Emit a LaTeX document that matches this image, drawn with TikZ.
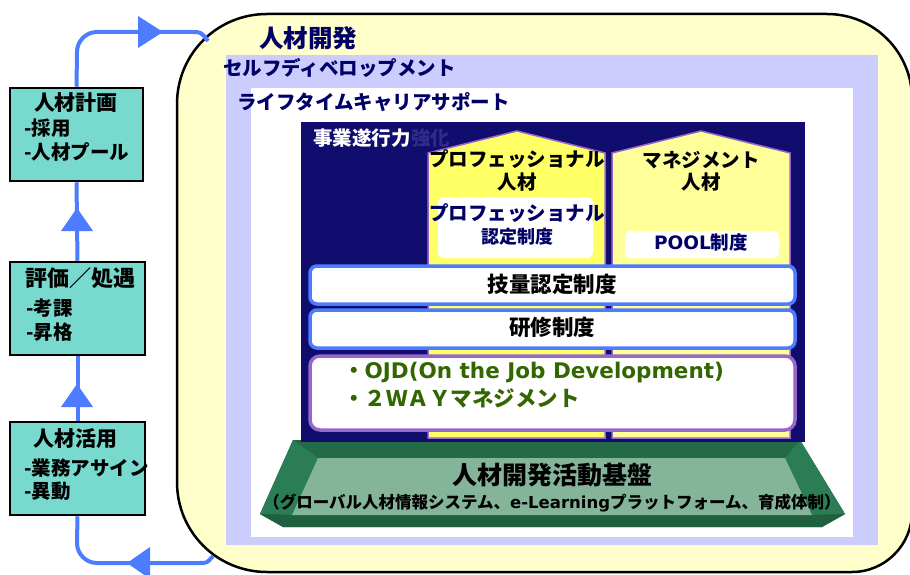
\documentclass[tikz,border=0pt]{standalone}
\usepackage{fontspec}
\setmainfont{Noto Sans CJK JP}
\newfontfamily\latinf{DejaVu Sans}
\definecolor{bgyellow}{HTML}{FFFFCC}
\definecolor{lav}{HTML}{CCCCFF}
\definecolor{navybox}{HTML}{100D6E}
\definecolor{navytxt}{HTML}{000066}
\definecolor{dimnavy}{HTML}{2E2C86}
\definecolor{pentA}{HTML}{FFFF66}
\definecolor{pentB}{HTML}{FFFF99}
\definecolor{purp}{HTML}{9966CC}
\definecolor{blueln}{HTML}{4D7CFF}
\definecolor{teal}{HTML}{78DACF}
\definecolor{ojdgreen}{HTML}{336600}
\definecolor{gdark}{HTML}{236B47}
\definecolor{gside}{HTML}{2B7D55}
\definecolor{gbot}{HTML}{1F6040}
\definecolor{glight}{HTML}{84B59B}
\newcommand{\fsz}[1]{\fontsize{#1}{#1}\selectfont\bfseries}
\tikzset{
  txt/.style={inner sep=0pt, font=\fsz{19.5}},
  leftbox/.style={draw=black, line width=2.5pt, fill=teal, inner sep=0pt},
  blueline/.style={draw=blueln, line width=4pt},
  bluetip/.style={fill=blueln},
  pent/.style={draw=purp, line width=1.5pt},
  barbox/.style={draw=blueln, line width=3.5pt, fill=white, rounded corners=7pt},
}
\begin{document}
\begin{tikzpicture}[x=1pt,y=-1pt]
\useasboundingbox (0,0) rectangle (910,575);
% big yellow rounded frame
\path[fill=bgyellow, draw=black, line width=2.5pt]
  (177,104) .. controls (177,54) and (217,14) .. (267,14) -- (827,14)
  .. controls (874,14) and (912,52) .. (912,99) -- (912,512)
  .. controls (912,545) and (885,572) .. (852,572) -- (267,572)
  .. controls (217,572) and (177,532) .. (177,482) -- cycle;
\coordinate (ytop) at (208,41);
\coordinate (ybot) at (213,556);
% lavender and white areas
\fill[lav] (226,55) rectangle (878,545);
\fill[white] (251,88) rectangle (853,537);
\node[txt, font=\fsz{24.5}, text=navytxt, anchor=center] (t1) at (308,38) {人材開発};
\node[txt, text=navytxt, anchor=west] (t2) at (223,68) {セルフディベロップメント};
\node[txt, text=navytxt, anchor=west] (t3) at (237,102) {ライフタイムキャリアサポート};
% green base
\coordinate (A) at (293,440); \coordinate (B) at (800,440);
\coordinate (C) at (845,514); \coordinate (D) at (822,527);
\coordinate (E) at (283,527); \coordinate (F) at (260,514);
\coordinate (a) at (318,458); \coordinate (b) at (785,458);
\coordinate (c) at (812,515); \coordinate (f) at (292,515);
\fill[gdark] (A) -- (B) -- (C) -- (D) -- (E) -- (F) -- cycle;
\fill[gside] (A) -- (a) -- (f) -- (F) -- cycle;
\fill[gside] (B) -- (b) -- (c) -- (C) -- cycle;
\fill[gbot] (F) -- (f) -- (c) -- (C) -- (D) -- (E) -- cycle;
\fill[glight] (a) -- (b) -- (c) -- (f) -- cycle;
% navy box
\fill[navybox] (301,122) rectangle (805,442);
\node[txt, text=white, anchor=west] (t4) at (313,138) {事業遂行力};
\node[txt, text=dimnavy, anchor=west] (t4b) at (t4.east) {強化};
% pentagons
\draw[pent, fill=pentA] (428,438) -- (428,153) -- (517,131) -- (605,153) -- (605,438) -- cycle;
\draw[pent, fill=pentB] (612,438) -- (612,153) -- (701,131) -- (790,153) -- (790,438) -- cycle;
\node[txt, font=\fsz{19.5}] (p1a) at (517,159) {プロフェッショナル};
\node[txt, font=\fsz{19.5}] (p1b) at (517,182) {人材};
\fill[white, rounded corners=6pt] (438,197) rectangle (593,258);
\node[txt, font=\fsz{19.5}, text=navytxt] (p1c) at (517,213) {プロフェッショナル};
\node[txt, font=\fsz{18}, text=navytxt] (p1d) at (517,237) {認定制度};
\node[txt, font=\fsz{19.5}] (p2a) at (701,160) {マネジメント};
\node[txt, font=\fsz{19.5}] (p2b) at (701,182) {人材};
\fill[white, rounded corners=5pt] (625,231) rectangle (779,258);
\node[txt, font=\fsz{18.5}, text=navytxt] (p2c) at (701,243) {{\latinf\bfseries POOL}制度};
% bars
\draw[barbox] (310,266) rectangle (795,304);
\node[txt, font=\fsz{21.5}] (bar1) at (552,284) {技量認定制度};
\draw[barbox] (310,310) rectangle (795,348);
\node[txt, font=\fsz{21.5}] (bar2) at (552,327) {研修制度};
\draw[barbox, draw=purp, rounded corners=10pt] (310,356) rectangle (795,430);
\node[txt, font=\fsz{21.5}, text=ojdgreen, anchor=west] (o1) at (343,373) {・{\latinf\bfseries OJD(On the Job Development)}};
\node[txt, font=\fsz{21.5}, text=ojdgreen, anchor=west] (o2) at (343,398) {・２ＷＡＹマネジメント};
% base texts
\node[txt, font=\fsz{25}] (g1) at (552,475) {人材開発活動基盤};
\node[txt, font=\fsz{16.5}] (g2) at (552,503) {（グローバル人材情報システム、{\latinf\bfseries e-Learning}プラットフォーム、育成体制）};
% left boxes
\node[leftbox, minimum width=133pt, minimum height=93pt] (b1) at (76.5,134.5) {};
\node[leftbox, minimum width=135pt, minimum height=93pt] (b2) at (77.5,308.5) {};
\node[leftbox, minimum width=135pt, minimum height=93pt] (b3) at (77.5,468.5) {};
\node[txt, font=\fsz{21}] (l1a) at (76,103) {人材計画};
\node[txt, anchor=west] (l1b) at (24,128) {-採用};
\node[txt, anchor=west] (l1c) at (24,152) {-人材プール};
\node[txt, font=\fsz{22}] (l2a) at (80,278) {評価／処遇};
\node[txt, anchor=west] (l2b) at (26,308) {-考課};
\node[txt, anchor=west] (l2c) at (26,332) {-昇格};
\node[txt, font=\fsz{21}] (l3a) at (75,439) {人材活用};
\node[txt, anchor=west] (l3b) at (24,468) {-業務アサイン};
\node[txt, anchor=west] (l3c) at (24,491) {-異動};
% blue loop
\draw[blueline] (b1.north) -- (77,52) .. controls (77,41) and (86,32) .. (97,32) -- (192,32) .. controls (201,32) .. (ytop);
\draw[blueline] (b2.north) -- (b1.south);
\draw[blueline] (b3.north) -- (b2.south);
\draw[blueline] (b3.south) -- (77,543) .. controls (77,554) and (86,563) .. (97,563) -- (200,563) .. controls (207,563) .. (ybot);
\fill[bluetip] (138,16) -- (163,32) -- (138,48) -- cycle;
\fill[bluetip] (77,208) -- (93,231) -- (61,231) -- cycle;
\fill[bluetip] (77,384) -- (93,407) -- (61,407) -- cycle;
\fill[bluetip] (127,563) -- (150,547) -- (150,579) -- cycle;
\end{tikzpicture}
\end{document}
